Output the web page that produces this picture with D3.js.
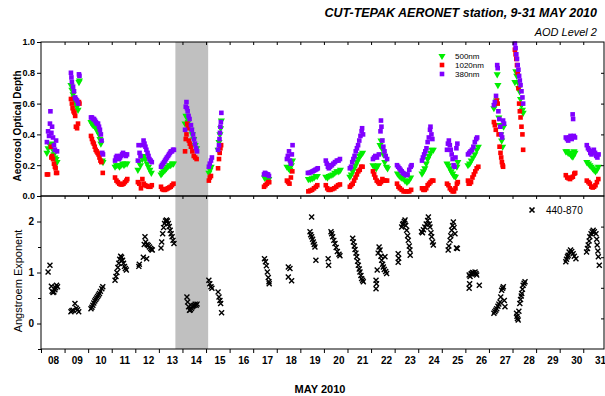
<!DOCTYPE html>
<html><head><meta charset="utf-8">
<script src="https://cdn.jsdelivr.net/npm/d3@7"></script>
<style>body{margin:0;background:#fff} svg{display:block} text{font-family:Arial,"Liberation Sans",sans-serif}</style>
</head><body>
<svg id="c" width="605" height="396"></svg>
<script>
// ---------------- DATA ----------------
const dayTicks = d3.range(8, 32);
const dayLabels = ["08","09","10","11","12","13","14","15","16","17","18","19","20","21","22","23","24","25","26","27","28","29","30","31"];
const aodTicks = [0, 0.2, 0.4, 0.6, 0.8, 1.0];
const angTicks = [0, 1, 2];
const shadeDays = [13.7, 15.09];
const seriesNames = ["500nm", "1020nm", "380nm"];
const angName = "440-870";

// [day of May (fractional), AOD]
const aod500 = [
[8.25,0.28],[8.30,0.31],[8.38,0.33],[8.44,0.32],[8.47,0.34],[8.51,0.30],[8.55,0.27],[8.59,0.25],[8.64,0.24],[8.68,0.22],
[9.27,0.72],[9.31,0.69],[9.36,0.66],[9.40,0.64],[9.44,0.62],[9.48,0.60],[9.53,0.58],[9.57,0.56],[9.61,0.74],[9.63,0.75],
[10.12,0.48],[10.16,0.47],[10.21,0.46],[10.25,0.46],[10.29,0.45],[10.33,0.44],[10.37,0.43],[10.42,0.42],[10.46,0.40],[10.50,0.37],[10.54,0.34],[10.60,0.23],[10.63,0.22],
[11.14,0.19],[11.20,0.20],[11.27,0.20],[11.33,0.19],[11.39,0.20],[11.46,0.21],[11.52,0.20],[11.58,0.21],[11.65,0.21],
[12.11,0.17],[12.16,0.22],[12.22,0.20],[12.30,0.24],[12.37,0.26],[12.43,0.24],[12.50,0.21],[12.56,0.19],[12.62,0.17],[12.68,0.15],
[13.09,0.14],[13.14,0.15],[13.20,0.16],[13.26,0.17],[13.32,0.18],[13.38,0.19],[13.44,0.20],[13.50,0.20],[13.56,0.21],[13.62,0.21],
[14.11,0.47],[14.15,0.52],[14.19,0.51],[14.24,0.48],[14.30,0.46],[14.36,0.43],[14.42,0.40],[14.48,0.37],[14.54,0.33],[14.60,0.31],
[15.12,0.15],[15.17,0.17],[15.22,0.19],[15.51,0.30],[15.55,0.35],[15.59,0.40],[15.62,0.44],[15.65,0.49],
[17.48,0.12],[17.54,0.12],[17.60,0.11],[17.66,0.11],
[18.43,0.19],[18.50,0.18],[18.56,0.17],[18.62,0.20],[18.67,0.23],
[19.34,0.11],[19.42,0.11],[19.50,0.115],[19.58,0.12],[19.66,0.13],[19.72,0.13],
[20.08,0.125],[20.15,0.12],[20.22,0.13],[20.30,0.135],[20.38,0.14],[20.46,0.15],[20.55,0.16],[20.63,0.16],[20.70,0.17],
[21.10,0.125],[21.16,0.14],[21.22,0.16],[21.28,0.18],[21.34,0.20],[21.40,0.22],[21.46,0.24],[21.52,0.26],[21.58,0.27],[21.64,0.28],
[22.08,0.20],[22.15,0.19],[22.22,0.18],[22.30,0.20],[22.38,0.33],[22.42,0.36],[22.46,0.31],[22.52,0.27],[22.58,0.22],[22.65,0.19],[22.70,0.18],
[23.12,0.145],[23.20,0.13],[23.28,0.12],[23.36,0.115],[23.44,0.10],[23.52,0.09],[23.60,0.10],[23.68,0.12],
[24.16,0.145],[24.22,0.16],[24.28,0.18],[24.34,0.21],[24.40,0.24],[24.46,0.26],[24.52,0.28],[24.58,0.30],[24.64,0.30],
[25.22,0.21],[25.28,0.20],[25.34,0.18],[25.40,0.16],[25.46,0.145],[25.52,0.13],[25.58,0.125],[25.64,0.19],[25.68,0.22],
[26.11,0.20],[26.18,0.21],[26.25,0.23],[26.32,0.25],[26.40,0.27],[26.48,0.30],[26.55,0.32],
[27.21,0.57],[27.26,0.59],[27.32,0.62],[27.35,0.79],[27.38,0.72],[27.42,0.51],[27.46,0.46],[27.50,0.40],[27.54,0.36],[27.58,0.32],[27.62,0.45],
[28.10,0.74],[28.14,0.81],[28.18,0.78],[28.22,0.74],[28.26,0.70],[28.30,0.68],[28.34,0.63],[28.38,0.59],[28.42,0.56],[28.45,0.54],
[30.26,0.29],[30.31,0.29],[30.36,0.28],[30.41,0.28],[30.46,0.27],[30.51,0.26],[30.56,0.255],[30.61,0.29],[30.65,0.28],
[31.15,0.22],[31.22,0.21],[31.28,0.20],[31.34,0.19],[31.40,0.18],[31.46,0.17],[31.52,0.16],[31.58,0.17],[31.64,0.19]
];
const aod1020 = [
[8.25,0.14],[8.30,0.14],[8.42,0.32],[8.44,0.25],[8.47,0.26],[8.51,0.24],[8.55,0.21],[8.59,0.19],[8.62,0.18],[8.64,0.15],[8.68,0.15],
[9.27,0.63],[9.31,0.60],[9.34,0.57],[9.38,0.55],[9.42,0.54],[9.45,0.52],[9.48,0.45],[9.53,0.44],[9.57,0.47],[9.61,0.61],[9.63,0.60],
[10.12,0.39],[10.16,0.37],[10.20,0.35],[10.24,0.34],[10.28,0.32],[10.32,0.30],[10.36,0.29],[10.40,0.28],[10.44,0.27],[10.48,0.25],[10.52,0.23],[10.56,0.22],[10.62,0.15],
[11.14,0.12],[11.20,0.10],[11.26,0.09],[11.32,0.08],[11.38,0.075],[11.44,0.075],[11.50,0.08],[11.56,0.09],[11.62,0.10],[11.66,0.11],
[12.11,0.09],[12.17,0.08],[12.24,0.05],[12.30,0.11],[12.36,0.08],[12.42,0.07],[12.48,0.065],[12.56,0.06],[12.64,0.06],[12.70,0.07],
[13.09,0.06],[13.14,0.045],[13.20,0.04],[13.26,0.04],[13.32,0.045],[13.38,0.05],[13.44,0.055],[13.50,0.06],[13.56,0.07],[13.62,0.08],
[14.11,0.29],[14.14,0.37],[14.17,0.40],[14.20,0.47],[14.23,0.44],[14.27,0.36],[14.31,0.34],[14.36,0.32],[14.42,0.29],[14.48,0.26],[14.54,0.25],[14.60,0.24],
[15.12,0.10],[15.16,0.12],[15.21,0.13],[15.51,0.18],[15.55,0.24],[15.58,0.28],[15.61,0.31],[15.64,0.33],
[17.46,0.06],[17.52,0.07],[17.58,0.08],[17.64,0.09],[17.68,0.09],
[18.43,0.10],[18.48,0.09],[18.54,0.08],[18.60,0.12],[18.66,0.16],
[19.34,0.03],[19.42,0.035],[19.50,0.04],[19.58,0.05],[19.66,0.06],[19.72,0.07],
[20.08,0.07],[20.14,0.05],[20.20,0.04],[20.28,0.04],[20.36,0.045],[20.44,0.05],[20.52,0.06],[20.60,0.07],[20.68,0.075],
[21.10,0.06],[21.16,0.07],[21.22,0.08],[21.28,0.10],[21.34,0.12],[21.40,0.14],[21.46,0.16],[21.52,0.17],[21.58,0.19],[21.64,0.19],
[22.08,0.16],[22.13,0.14],[22.18,0.12],[22.24,0.10],[22.30,0.09],[22.36,0.08],[22.42,0.09],[22.48,0.11],[22.54,0.10],[22.60,0.10],[22.68,0.10],
[23.10,0.08],[23.16,0.06],[23.22,0.05],[23.30,0.04],[23.38,0.03],[23.46,0.03],[23.54,0.03],[23.62,0.03],[23.70,0.04],
[24.16,0.05],[24.22,0.04],[24.28,0.04],[24.34,0.05],[24.40,0.07],[24.46,0.08],[24.52,0.09],[24.58,0.10],[24.64,0.10],
[25.22,0.08],[25.28,0.07],[25.34,0.05],[25.40,0.04],[25.46,0.03],[25.52,0.03],[25.58,0.05],[25.64,0.08],[25.68,0.09],
[26.11,0.10],[26.14,0.08],[26.18,0.08],[26.24,0.09],[26.30,0.12],[26.36,0.14],[26.42,0.16],[26.48,0.18],[26.55,0.19],
[27.21,0.48],[27.25,0.46],[27.29,0.43],[27.33,0.62],[27.37,0.60],[27.41,0.40],[27.45,0.32],[27.49,0.28],[27.52,0.25],[27.55,0.22],[27.58,0.20],[27.60,0.19],
[28.10,0.95],[28.13,0.92],[28.16,0.89],[28.19,0.85],[28.22,0.80],[28.25,0.70],[28.28,0.60],[28.31,0.55],[28.34,0.51],[28.38,0.45],[28.42,0.40],[28.45,0.30],
[30.26,0.135],[30.32,0.12],[30.38,0.115],[30.44,0.11],[30.50,0.12],[30.56,0.125],[30.62,0.145],[30.66,0.15],
[31.15,0.10],[31.22,0.09],[31.28,0.08],[31.34,0.06],[31.40,0.055],[31.46,0.06],[31.52,0.07],[31.58,0.09],[31.64,0.11]
];
const aod380 = [
[8.25,0.35],[8.30,0.42],[8.34,0.39],[8.38,0.47],[8.40,0.55],[8.44,0.41],[8.47,0.45],[8.51,0.38],[8.55,0.33],[8.59,0.30],[8.64,0.36],[8.68,0.29],
[9.27,0.80],[9.29,0.77],[9.31,0.74],[9.36,0.71],[9.40,0.68],[9.44,0.64],[9.48,0.63],[9.53,0.62],[9.57,0.60],[9.61,0.79],[9.63,0.78],
[10.12,0.51],[10.16,0.51],[10.21,0.50],[10.25,0.50],[10.29,0.49],[10.33,0.48],[10.37,0.47],[10.42,0.47],[10.46,0.45],[10.50,0.43],[10.54,0.40],[10.57,0.36],[10.60,0.28],[10.63,0.27],
[11.14,0.23],[11.18,0.25],[11.22,0.26],[11.27,0.25],[11.31,0.24],[11.35,0.25],[11.39,0.26],[11.44,0.27],[11.48,0.28],[11.52,0.27],[11.56,0.27],[11.60,0.26],[11.65,0.27],
[12.11,0.23],[12.14,0.33],[12.18,0.28],[12.22,0.26],[12.30,0.33],[12.35,0.36],[12.39,0.34],[12.43,0.32],[12.47,0.30],[12.52,0.28],[12.56,0.26],[12.60,0.24],[12.65,0.23],[12.70,0.22],
[13.09,0.19],[13.13,0.20],[13.17,0.21],[13.22,0.22],[13.26,0.23],[13.30,0.24],[13.34,0.25],[13.39,0.26],[13.43,0.27],[13.47,0.28],[13.51,0.29],[13.56,0.29],[13.60,0.30],[13.64,0.30],
[14.11,0.43],[14.14,0.58],[14.17,0.61],[14.19,0.57],[14.22,0.55],[14.26,0.52],[14.30,0.50],[14.36,0.46],[14.40,0.43],[14.45,0.40],[14.49,0.37],[14.53,0.34],[14.58,0.31],[14.62,0.29],
[15.12,0.19],[15.16,0.21],[15.21,0.23],[15.25,0.25],[15.51,0.30],[15.55,0.33],[15.57,0.37],[15.59,0.41],[15.61,0.45],[15.63,0.48],[15.65,0.54],
[17.46,0.14],[17.50,0.15],[17.54,0.145],[17.58,0.14],[17.63,0.14],[17.67,0.13],
[18.43,0.24],[18.47,0.26],[18.52,0.29],[18.56,0.23],[18.60,0.21],[18.64,0.27],[18.67,0.33],
[19.32,0.15],[19.38,0.15],[19.45,0.155],[19.52,0.16],[19.58,0.165],[19.64,0.17],[19.70,0.175],[19.74,0.18],
[20.08,0.23],[20.12,0.21],[20.17,0.19],[20.21,0.18],[20.26,0.19],[20.30,0.20],[20.34,0.20],[20.40,0.21],[20.47,0.22],[20.55,0.23],[20.62,0.23],[20.68,0.24],
[21.10,0.18],[21.15,0.19],[21.20,0.22],[21.25,0.24],[21.30,0.26],[21.35,0.29],[21.40,0.31],[21.45,0.33],[21.50,0.36],[21.55,0.39],[21.60,0.42],[21.62,0.44],[21.66,0.40],
[22.08,0.24],[22.13,0.25],[22.18,0.26],[22.25,0.25],[22.33,0.27],[22.40,0.42],[22.42,0.49],[22.44,0.45],[22.48,0.36],[22.52,0.32],[22.57,0.29],[22.62,0.26],[22.68,0.24],
[23.10,0.20],[23.15,0.19],[23.20,0.18],[23.25,0.17],[23.30,0.16],[23.35,0.15],[23.40,0.145],[23.45,0.14],[23.50,0.135],[23.55,0.14],[23.62,0.17],[23.68,0.19],[23.72,0.20],
[24.16,0.23],[24.20,0.25],[24.25,0.27],[24.30,0.29],[24.35,0.31],[24.40,0.35],[24.45,0.38],[24.50,0.43],[24.52,0.45],[24.56,0.40],[24.60,0.37],
[25.22,0.30],[25.26,0.34],[25.30,0.36],[25.34,0.33],[25.38,0.30],[25.42,0.27],[25.46,0.24],[25.50,0.20],[25.54,0.19],[25.58,0.25],[25.62,0.31],[25.66,0.34],
[26.11,0.27],[26.16,0.28],[26.22,0.29],[26.28,0.30],[26.34,0.32],[26.40,0.35],[26.46,0.37],[26.50,0.38],
[27.21,0.59],[27.25,0.61],[27.30,0.65],[27.35,0.85],[27.37,0.83],[27.40,0.55],[27.44,0.50],[27.48,0.45],[27.52,0.40],[27.56,0.38],[27.60,0.49],[27.64,0.47],
[28.10,0.99],[28.13,0.96],[28.16,0.92],[28.19,0.89],[28.22,0.85],[28.25,0.82],[28.28,0.78],[28.31,0.75],[28.34,0.72],[28.38,0.68],[28.42,0.64],[28.45,0.60],
[30.26,0.38],[30.31,0.37],[30.36,0.36],[30.41,0.38],[30.46,0.39],[30.51,0.37],[30.55,0.53],[30.57,0.50],[30.60,0.39],[30.65,0.38],
[31.15,0.33],[31.20,0.31],[31.25,0.30],[31.30,0.28],[31.35,0.27],[31.40,0.29],[31.45,0.30],[31.50,0.28],[31.55,0.26],[31.60,0.25],[31.65,0.27]
];
// [day of May (fractional), Angstrom exponent 440-870]
const angstrom = [
[8.30,1.01],[8.38,1.14],[8.44,0.73],[8.47,0.63],[8.51,0.61],[8.55,0.62],[8.59,0.66],[8.62,0.70],[8.66,0.75],[8.70,0.72],
[9.27,0.23],[9.31,0.25],[9.36,0.26],[9.44,0.39],[9.50,0.30],[9.55,0.27],[9.60,0.23],
[10.12,0.29],[10.16,0.32],[10.20,0.36],[10.24,0.40],[10.28,0.44],[10.32,0.47],[10.36,0.50],[10.40,0.53],[10.44,0.56],[10.48,0.59],[10.52,0.63],[10.58,0.68],[10.62,0.72],
[11.14,0.85],[11.18,0.92],[11.22,1.00],[11.26,1.10],[11.30,1.18],[11.34,1.26],[11.38,1.32],[11.42,1.30],[11.46,1.24],[11.50,1.18],[11.54,1.12],[11.58,1.08],[11.62,1.05],
[12.15,1.12],[12.17,1.16],[12.34,1.30],[12.48,1.27],[12.38,1.55],[12.41,1.70],[12.44,1.60],[12.50,1.55],[12.55,1.53],[12.60,1.50],[12.65,1.47],[12.69,1.45],[12.72,1.44],
[13.09,1.48],[13.12,1.60],[13.16,1.76],[13.20,1.88],[13.24,1.96],[13.28,2.01],[13.32,2.03],[13.36,2.01],[13.40,1.96],[13.44,1.90],[13.48,1.83],[13.52,1.76],[13.56,1.70],[13.60,1.63],[13.64,1.57],
[14.19,0.52],[14.22,0.42],[14.26,0.33],[14.30,0.26],[14.34,0.27],[14.38,0.30],[14.42,0.33],[14.46,0.35],[14.50,0.36],[14.54,0.38],[14.58,0.36],[14.62,0.38],
[15.12,0.85],[15.16,0.78],[15.21,0.72],[15.25,0.69],[15.51,0.62],[15.55,0.52],[15.59,0.45],[15.62,0.39],[15.66,0.21],
[17.48,1.27],[17.52,1.21],[17.56,1.13],[17.60,1.01],[17.64,0.90],[17.67,0.82],[17.68,0.78],
[18.49,1.11],[18.56,1.08],[18.49,0.91],[18.63,0.84],
[19.48,2.09],[19.41,1.80],[19.44,1.74],[19.48,1.70],[19.52,1.65],[19.55,1.60],[19.59,1.55],[19.62,1.50],[19.66,1.24],
[20.18,1.27],[20.20,1.14],[20.30,1.80],[20.33,1.76],[20.37,1.70],[20.42,1.63],[20.47,1.57],[20.52,1.49],[20.57,1.41],[20.64,1.36],[20.68,1.33],
[21.22,1.67],[21.25,1.60],[21.29,1.52],[21.32,1.45],[21.36,1.38],[21.39,1.31],[21.43,1.22],[21.46,1.14],[21.50,1.07],[21.53,1.01],[21.57,0.94],[21.60,0.88],[21.64,0.85],[21.67,0.82],
[22.21,0.85],[22.21,0.68],[22.23,0.78],[22.26,1.05],[22.30,1.38],[22.34,1.50],[22.38,1.44],[22.42,1.32],[22.45,1.24],[22.49,1.16],[22.52,1.11],[22.56,1.06],[22.59,1.31],[22.62,1.02],[22.66,0.98],
[23.15,1.37],[23.15,1.20],[23.17,1.28],[23.30,1.89],[23.34,1.94],[23.37,1.96],[23.41,2.00],[23.44,2.03],[23.47,1.92],[23.51,1.83],[23.55,1.72],[23.58,1.63],[23.62,1.52],[23.65,1.44],[23.66,1.34],
[24.14,1.80],[24.18,1.78],[24.22,1.84],[24.28,1.89],[24.34,1.95],[24.40,2.02],[24.43,2.09],[24.47,1.95],[24.50,1.89],[24.54,1.78],[24.57,1.70],[24.61,1.60],[24.64,1.54],
[25.27,1.44],[25.30,1.52],[25.35,1.63],[25.38,1.72],[25.42,1.83],[25.46,1.92],[25.49,1.99],[25.52,1.88],[25.56,1.76],[25.62,1.48],[25.66,1.47],
[26.16,0.95],[26.16,0.69],[26.18,0.78],[26.20,0.92],[26.24,0.97],[26.27,0.98],[26.31,1.00],[26.35,0.99],[26.41,1.01],[26.45,0.98],[26.48,0.95],[26.59,0.75],
[27.21,0.20],[27.25,0.23],[27.29,0.26],[27.33,0.29],[27.38,0.34],[27.42,0.38],[27.47,0.42],[27.50,0.52],[27.54,0.65],[27.58,0.69],[27.61,0.72],[27.65,0.45],[27.68,0.33],
[28.17,0.20],[28.19,0.14],[28.21,0.10],[28.24,0.07],[28.27,0.24],[28.31,0.39],[28.34,0.47],[28.37,0.54],[28.39,0.59],[28.42,0.67],[28.45,0.75],[28.49,0.79],[28.53,0.82],
[30.26,1.21],[30.29,1.26],[30.33,1.31],[30.36,1.34],[30.40,1.40],[30.46,1.44],[30.51,1.41],[30.57,1.37],[30.62,1.32],[30.69,1.27],
[31.14,1.40],[31.18,1.47],[31.21,1.54],[31.25,1.62],[31.28,1.70],[31.33,1.76],[31.38,1.80],[31.42,1.83],[31.47,1.80],[31.54,1.76],[31.57,1.65],[31.59,1.54],[31.62,1.42],[31.64,1.31],[31.68,1.14]
];

// ---------------- DRAW ----------------
const svg = d3.select("#c");
const L = 41, R = 604, T1 = 42, B1 = 196, T2 = 196, B2 = 349;
const COL = {g:"#00ee00", r:"#ff0000", p:"#8000ff"};
const SQ = 4.6;

const x = d3.scaleLinear().domain([8, 31.88]).range([L, R]);
const xLab = d3.scaleLinear().domain([8, 31]).range([53, 600]);
const yTop = d3.scaleLinear().domain([0, 1]).range([B1, T1]);
const yBot = d3.scaleLinear().domain([-0.5, 2.5]).range([B2, T2]);
const yTopR = d3.scaleLinear().domain([0, 1]).range([B1, T1]);
const yBotR = d3.scaleLinear().domain([0, 1]).range([B2, T2]);

// shade
svg.append("rect").attr("x", x(shadeDays[0])).attr("y", T1)
  .attr("width", x(shadeDays[1]) - x(shadeDays[0])).attr("height", B2 - T1)
  .attr("fill", "#c0c0c0");

// points - top panel
const gTop = svg.append("g");
const tri = d3.symbol(d3.symbolTriangle, 22);
gTop.selectAll("path.g5").data(aod500).join("path").attr("class","g5")
  .attr("d", tri).attr("transform", d => `translate(${x(d[0])},${yTop(d[1])}) rotate(180)`)
  .attr("fill", COL.g);
gTop.selectAll("rect.r10").data(aod1020).join("rect").attr("class","r10")
  .attr("x", d => x(d[0]) - SQ/2).attr("y", d => yTop(d[1]) - SQ/2).attr("width", SQ).attr("height", SQ)
  .attr("fill", COL.r);
gTop.selectAll("rect.p38").data(aod380).join("rect").attr("class","p38")
  .attr("x", d => x(d[0]) - SQ/2).attr("y", d => yTop(d[1]) - SQ/2).attr("width", SQ).attr("height", SQ)
  .attr("fill", COL.p);

// points - bottom panel
const times = d3.symbol(d3.symbolTimes, 18);
svg.append("g").selectAll("path").data(angstrom).join("path")
  .attr("d", times).attr("transform", d => `translate(${x(d[0])},${yBot(d[1])})`)
  .attr("fill", "none").attr("stroke", "#000").attr("stroke-width", 1.4);

// frames
[[T1,B1],[T2,B2]].forEach(([t,b]) => {
  svg.append("rect").attr("x", L).attr("y", t).attr("width", R - L).attr("height", b - t)
    .attr("fill", "none").attr("stroke", "#000").attr("stroke-width", 1);
});

function styleAxis(g, size, weight) {
  g.select(".domain").remove();
  g.selectAll(".tick line").attr("stroke", "#000");
  g.selectAll("text").attr("font-size", size).attr("font-weight", weight)
    .attr("font-family", "Arial, 'Liberation Sans', sans-serif").attr("fill", "#000");
}

// left axes
svg.append("g").attr("transform", `translate(${L},0)`)
  .call(d3.axisLeft(yTop).tickValues(aodTicks).tickFormat(d3.format(".1f")).tickSize(4).tickPadding(2))
  .call(g => styleAxis(g, 9, "bold"));
svg.append("g").attr("transform", `translate(${L},0)`)
  .call(d3.axisLeft(yBot).tickValues(angTicks).tickFormat(d3.format("d")).tickSize(4).tickPadding(3))
  .call(g => styleAxis(g, 10, "bold"));
svg.append("g").attr("transform", `translate(${L},0)`)
  .call(d3.axisLeft(yBot).tickValues([-0.5, 0.5, 1.5]).tickFormat("").tickSize(3))
  .call(g => styleAxis(g, 10, "bold"));

// right inward ticks
svg.append("g").attr("transform", `translate(${R},0)`)
  .call(d3.axisLeft(yTopR).tickValues([0.2,0.4,0.6,0.8]).tickFormat("").tickSize(3))
  .call(g => styleAxis(g, 9, "normal"));
svg.append("g").attr("transform", `translate(${R},0)`)
  .call(d3.axisLeft(yBotR).tickValues([0.2,0.4,0.6,0.8]).tickFormat("").tickSize(3))
  .call(g => styleAxis(g, 9, "normal"));

// x ticks: top edges inward, bottom outward
const innerTicks = dayTicks.filter(d => d > 8);
[T1, T2].forEach(yy => {
  svg.append("g").attr("transform", `translate(0,${yy})`)
    .call(d3.axisBottom(x).tickValues(innerTicks).tickFormat("").tickSize(3))
    .call(g => styleAxis(g, 9, "normal"));
});
svg.append("g").attr("transform", `translate(0,${B2})`)
  .call(d3.axisBottom(x).tickValues(dayTicks).tickFormat("").tickSize(4))
  .call(g => styleAxis(g, 9, "normal"));
// day labels
svg.append("g").attr("transform", `translate(0,${B2})`)
  .call(d3.axisBottom(xLab).tickValues(dayTicks).tickFormat((d,i) => dayLabels[i]).tickSize(0).tickPadding(8))
  .call(g => { styleAxis(g, 10, "bold"); g.selectAll("line").remove(); });

// titles
svg.append("text").attr("x", 597).attr("y", 17).attr("text-anchor", "end")
  .attr("font-size", 12.5).attr("font-weight", "bold").attr("font-style", "italic")
  .text("CUT-TEPAK AERONET station, 9-31 MAY 2010");
svg.append("text").attr("x", 597).attr("y", 36).attr("text-anchor", "end")
  .attr("font-size", 11).attr("font-style", "italic")
  .text("AOD Level 2");
svg.append("text").attr("transform", "translate(21,126) rotate(-90)").attr("text-anchor", "middle")
  .attr("font-size", 10).attr("font-weight", "bold").text("Aeorosol Optical Depth");
svg.append("text").attr("transform", "translate(22,281) rotate(-90)").attr("text-anchor", "middle")
  .attr("font-size", 11).text("Angstroem Exponent");
svg.append("text").attr("x", 320).attr("y", 393).attr("text-anchor", "middle")
  .attr("font-size", 11).attr("font-weight", "bold").text("MAY 2010");

// legend top
const lg = svg.append("g");
const legY = [56, 65, 74];
lg.append("path").attr("d", tri).attr("transform", `translate(442,${legY[0]}) rotate(180)`).attr("fill", COL.g);
lg.append("rect").attr("x", 442 - SQ/2).attr("y", legY[1]-SQ/2).attr("width", SQ).attr("height", SQ).attr("fill", COL.r);
lg.append("rect").attr("x", 442 - SQ/2).attr("y", legY[2]-SQ/2).attr("width", SQ).attr("height", SQ).attr("fill", COL.p);
seriesNames.forEach((n,i) => {
  lg.append("text").attr("x", 455).attr("y", legY[i] + 3).attr("font-size", 8).text(n);
});
// legend bottom
svg.append("path").attr("d", times).attr("transform", "translate(532,210)")
  .attr("fill","none").attr("stroke","#000").attr("stroke-width",1.7);
svg.append("text").attr("x", 546).attr("y", 214).attr("font-size", 10).text(angName);
</script>
</body></html>
